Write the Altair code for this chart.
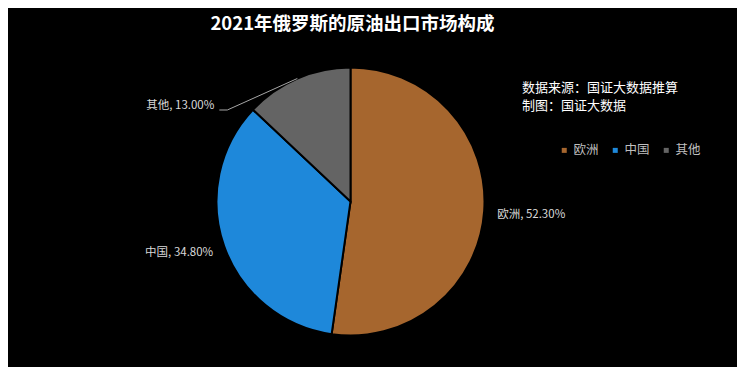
import altair as alt
import pandas as pd

categories = ["欧洲", "中国", "其他"]
shares = [52.3, 34.8, 13.0]
colors = ["#A6662E", "#1E88DA", "#646464"]
title_text = "2021年俄罗斯的原油出口市场构成"
source_lines = ["数据来源：国证大数据推算", "制图：国证大数据"]

df = pd.DataFrame({"cat": categories, "value": shares, "idx": list(range(len(categories)))})

W, H = 729, 359
CX, CY, R = 342.5, 193.5, 134
FONT = "Noto Sans CJK SC"

base = alt.Chart(df)

pie = base.mark_arc(outerRadius=R, stroke="#000000", strokeWidth=2).encode(
    theta=alt.Theta("value:Q", stack=True),
    order=alt.Order("idx:O"),
    color=alt.Color(
        "cat:N",
        scale=alt.Scale(domain=categories, range=colors),
        sort=categories,
        legend=alt.Legend(
            title=None, orient="none", direction="horizontal",
            legendX=550, legendY=136, symbolType="square", symbolSize=25,
            symbolStrokeWidth=0, labelColor="#bfbfbf", labelFontSize=12.5,
            labelFont=FONT, labelOffset=3, columnPadding=10, padding=0,
        ),
    ),
    x=alt.value(CX),
    y=alt.value(CY),
)

geo = (
    base.transform_joinaggregate(total="sum(value)")
    .transform_window(cum="sum(value)", sort=[alt.SortField("idx")], frame=[None, 0])
    .transform_calculate(
        mid="(datum.cum - datum.value/2)/datum.total*2*PI",
        label='datum.cat + ", " + format(datum.value, ".2f") + "%"',
    )
)


def label_layer(cat, r, align, dx=0, dy=0):
    return (
        geo.transform_filter(alt.datum.cat == cat)
        .transform_calculate(
            lx=f"{CX} + {r}*sin(datum.mid)",
            ly=f"{CY} - {r}*cos(datum.mid)",
        )
        .mark_text(align=align, baseline="middle", dx=dx, dy=dy, fontSize=11.5,
                   color="#d9d9d9", font=FONT)
        .encode(x=alt.X("lx:Q", scale=None), y=alt.Y("ly:Q", scale=None), text="label:N")
    )


lab_eu = label_layer("欧洲", 147, "left", dy=3)
lab_cn = label_layer("中国", 145.5, "right", dy=3)
lab_ot = label_layer("其他", R, "right", dx=-83, dy=27.5)

leader = (
    geo.transform_filter(alt.datum.cat == "其他")
    .transform_calculate(
        ex=f"{CX} + {R}*sin(datum.mid)",
        ey=f"{CY} - {R}*cos(datum.mid)",
    )
    .transform_calculate(bx="datum.ex - 70", by="datum.ey + 31.5", cx2="datum.ex - 78")
)
leader1 = leader.mark_rule(color="#a6a6a6", strokeWidth=1).encode(
    x=alt.X("ex:Q", scale=None), y=alt.Y("ey:Q", scale=None), x2="bx:Q", y2="by:Q"
)
leader2 = leader.mark_rule(color="#a6a6a6", strokeWidth=1).encode(
    x=alt.X("bx:Q", scale=None), y=alt.Y("by:Q", scale=None), x2="cx2:Q", y2="by:Q"
)

title = alt.Chart(pd.DataFrame({"t": [title_text]})).mark_text(
    align="center", baseline="middle", fontSize=18.5, fontWeight="bold", color="#ffffff", font=FONT
).encode(x=alt.value(344.5), y=alt.value(16), text="t:N")

source = alt.Chart(pd.DataFrame({"t": [0]})).mark_text(
    align="left", baseline="top", fontSize=13, color="#ffffff", font=FONT, lineHeight=18
).encode(x=alt.value(514), y=alt.value(74), text=alt.value(source_lines))

chart = (
    alt.layer(pie, leader1, leader2, lab_eu, lab_cn, lab_ot, title, source)
    .resolve_scale(color="independent")
    .properties(width=W, height=H, background="#000000", padding=0,
                autosize=alt.AutoSizeParams(type="none"))
    .configure_view(stroke=None)
)

chart.save("out.html", embed_options={"renderer": "svg", "actions": False})
